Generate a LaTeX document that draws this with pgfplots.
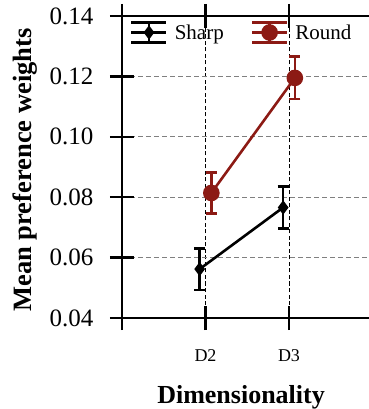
\documentclass[border=0pt]{standalone}
\usepackage{fontspec}
\setmainfont{Liberation Serif}
\usepackage{pgfplots}
\pgfplotsset{compat=1.18}
\definecolor{roundred}{RGB}{140,26,20}
\pgfplotsset{
  errlegend/.style={legend image code/.code={
    \draw[##1, mark=none, line width=2.6pt] (0pt,10pt) -- (35pt,10pt);
    \draw[##1, mark=none, line width=2.6pt] (0pt,-10pt) -- (35pt,-10pt);
    \draw[##1, mark=none, line width=2.6pt] (17.5pt,-10pt) -- (17.5pt,10pt);
    \draw[mark repeat=2,mark phase=2,##1] plot coordinates {(0pt,0pt) (17.5pt,0pt) (35pt,0pt)};
  }}
}
\begin{document}
\begin{tikzpicture}
\begin{axis}[
  name=ax,
  scale only axis, width=300.6pt, height=302pt,
  xmin=1, xmax=4.6, ymin=0.04, ymax=0.14,
  xtick={1,2,3}, xticklabels={,D2,D3},
  ytick={0.04,0.06,0.08,0.10,0.12,0.14},
  /pgf/number format/assume math mode=true,
  yticklabel style={/pgf/number format/fixed, /pgf/number format/fixed zerofill, /pgf/number format/precision=2, font=\fontsize{25}{25}\selectfont, xshift=-13pt},
  xticklabel style={font=\fontsize{18}{18}\selectfont, yshift=-16pt},
  axis line style={line width=2.5pt},
  major tick length=24pt, tick align=center,
  every tick/.style={black, line width=2.4pt},
  grid=major,
  x grid style={black, dash pattern=on 4pt off 2.5pt, line width=0.8pt},
  y grid style={gray, dash pattern=on 5pt off 3pt, line width=1.1pt},
  xlabel={\textbf{Dimensionality}},
  ylabel={\textbf{Mean preference weights}},
  xlabel style={font=\fontsize{26}{26}\selectfont, at={(axis description cs:0.396,0)}, anchor=north, yshift=-64pt},
  ylabel style={font=\fontsize{26.5}{26.5}\selectfont, at={(axis description cs:-0.3227,0.49)}, anchor=center},
  legend style={draw=none, fill=none,
    font=\fontsize{21}{21}\selectfont, legend columns=2,
    /tikz/every odd column/.append style={column sep=5pt},
    /tikz/every even column/.append style={column sep=25pt},
    at={(rel axis cs:0,1)}, anchor=north west, xshift=5pt, yshift=-3pt},
  legend cell align=left,
]
\addplot[black, line width=2.6pt, mark=diamond*, mark size=5pt, errlegend,
  error bars/.cd, y dir=both, y explicit,
  error bar style={line width=2.6pt},
  error mark options={line width=2.6pt, mark size=5.5pt, rotate=90}]
  coordinates {(1.93,0.0562) +- (0,0.0069) (2.93,0.0766) +- (0,0.0070)};
\addlegendentry{Sharp}
\addplot[roundred, line width=2.6pt, mark=*, mark size=7pt, errlegend,
  error bars/.cd, y dir=both, y explicit,
  error bar style={line width=2.6pt},
  error mark options={line width=2.6pt, mark size=5.5pt, rotate=90}]
  coordinates {(2.07,0.0814) +- (0,0.0068) (3.07,0.1195) +- (0,0.0070)};
\addlegendentry{Round}
\end{axis}
\pgfresetboundingbox
\useasboundingbox ([xshift=-122pt,yshift=-91pt]ax.south west) rectangle ([xshift=246pt,yshift=16pt]ax.north west);
\end{tikzpicture}
\end{document}
